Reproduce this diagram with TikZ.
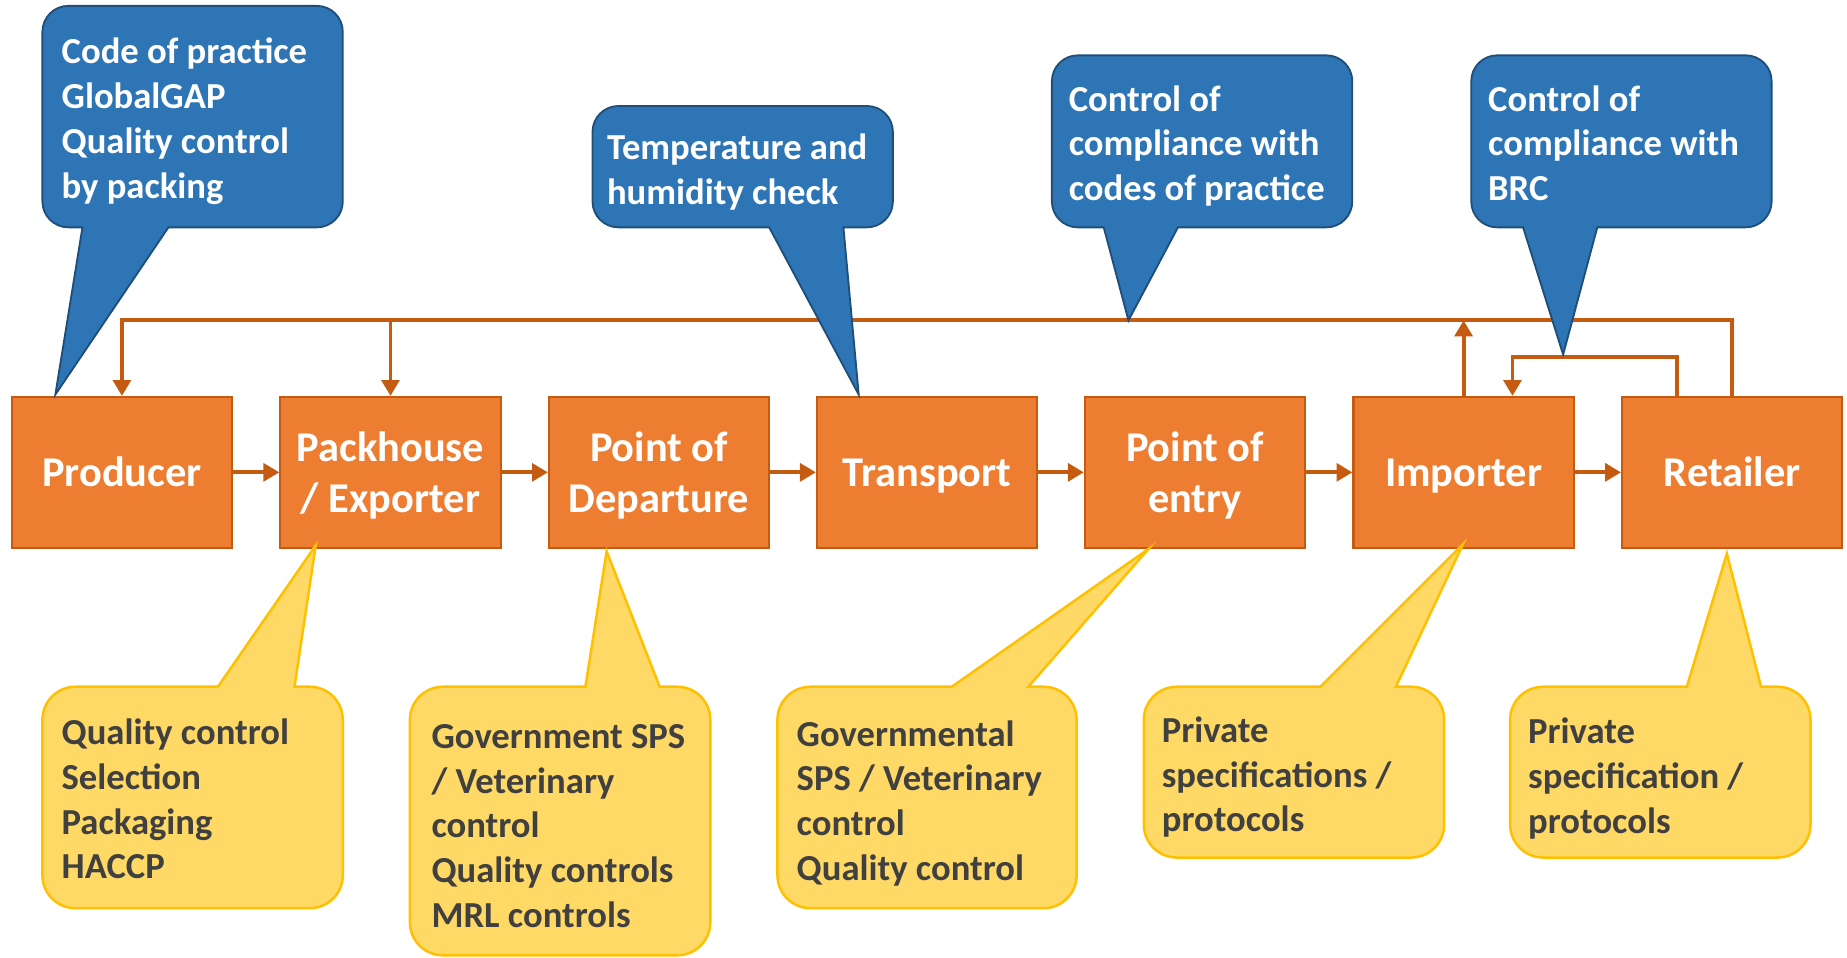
\documentclass[tikz,border=0pt]{standalone}
\usepackage{fontspec}
\setmainfont{Carlito}
\usepackage{tikz}
\usetikzlibrary{arrows.meta}
\definecolor{boxfill}{HTML}{ED7D31}
\definecolor{boxedge}{HTML}{C55A11}
\definecolor{linec}{HTML}{C55A11}
\definecolor{bluefill}{HTML}{2E75B6}
\definecolor{blueedge}{HTML}{1F4E79}
\definecolor{yellowfill}{HTML}{FFD966}
\definecolor{yellowedge}{HTML}{FFC000}
\definecolor{darktext}{HTML}{404040}
\tikzset{
  stage/.style={draw=boxedge, fill=boxfill, line width=1pt, minimum width=3.74cm, minimum height=2.56cm, inner sep=0pt, align=center, text=white, font=\fontsize{20.5}{25}\selectfont\bfseries},
  oneline/.style={text height=0.48cm, text depth=0pt},
  flow/.style={draw=linec, line width=1.9pt, -{Triangle[length=0.27cm,width=0.3cm]}},
  bluebub/.style={fill=bluefill, draw=blueedge, line width=0.9pt},
  yellowbub/.style={fill=yellowfill, draw=yellowedge, line width=1.2pt},
  bluetxt/.style={anchor=north west, inner sep=0pt, align=left, text=white, font=\fontsize{17.7}{21.6}\selectfont\bfseries},
  yellowtxt/.style={anchor=north west, inner sep=0pt, align=left, text=darktext, font=\fontsize{17.7}{21.6}\selectfont\bfseries},
}
% x1 y1 x2 y2 base-left base-right tip-x tip-y
\newcommand{\bubdown}[8]{%
  \draw[bluebub] (#5,#4) -- (#7,#8) -- (#6,#4) -- ({#3-22},#4)
    arc[start angle=90,end angle=0,radius=22] -- (#3,{#2+22})
    arc[start angle=0,end angle=-90,radius=22] -- ({#1+22},#2)
    arc[start angle=-90,end angle=-180,radius=22] -- (#1,{#4-22})
    arc[start angle=180,end angle=90,radius=22] -- cycle;}
\newcommand{\bubup}[8]{%
  \draw[yellowbub] (#6,#2) -- (#7,#8) -- (#5,#2) -- ({#1+28},#2)
    arc[start angle=-90,end angle=-180,radius=28] -- (#1,{#4-28})
    arc[start angle=180,end angle=90,radius=28] -- ({#3-28},#4)
    arc[start angle=90,end angle=0,radius=28] -- (#3,{#2+28})
    arc[start angle=0,end angle=-90,radius=28] -- cycle;}

\begin{document}
\begin{tikzpicture}[x=0.02cm, y=-0.02cm]
  \useasboundingbox (0,0) rectangle (1568,813);

  \node[stage, oneline] (prod) at (103.5,401) {Producer};
  \node[stage] (pack) at (331.5,401) {\strut Packhouse\\/ Exporter};
  \node[stage] (dep) at (559.5,401) {\strut Point of\\Departure};
  \node[stage, oneline] (trans) at (787,401) {Transport};
  \node[stage] (entry) at (1014.5,401) {\strut Point of\\entry};
  \node[stage, oneline] (imp) at (1242.5,401) {Importer};
  \node[stage, oneline] (ret) at (1470.5,401) {Retailer};

  \draw[flow] (prod) -- (pack);
  \draw[flow] (pack) -- (dep);
  \draw[flow] (dep) -- (trans);
  \draw[flow] (trans) -- (entry);
  \draw[flow] (entry) -- (imp);
  \draw[flow] (imp) -- (ret);

  \coordinate (fb) at (0,272);
  \coordinate (lp) at (0,303);
  \coordinate (retout) at ([xshift=-0.93cm]ret.north);
  \coordinate (impin) at ([xshift=0.83cm]imp.north);
  \draw[flow] (ret.north) |- (fb -| prod.north) -- (prod.north);
  \draw[flow] (fb -| pack.north) -- (pack.north);
  \draw[flow] (imp.north) -- (fb -| imp.north);
  \draw[flow] (retout) |- (impin |- lp) -- (impin);

  \bubdown{36}{5}{291}{193}{70}{143}{47}{335}
  \bubdown{503}{90}{758}{193}{653}{716}{729}{335}
  \bubdown{893}{47}{1148}{193}{937}{1000}{958}{272}
  \bubdown{1249}{47}{1504}{193}{1293}{1356}{1327}{301}
  \bubup{36}{583}{291}{771}{185}{250}{268}{463}
  \bubup{348}{583}{603}{811}{497}{560}{515}{468}
  \bubup{660}{583}{914}{771}{808}{873}{975}{466}
  \bubup{971}{583}{1226}{728}{1121}{1185}{1242}{462}
  \bubup{1282}{583}{1537}{728}{1432}{1495}{1466}{470}

  \node[bluetxt] (code) at (52,27.4) {\strut Code of practice\\GlobalGAP\\Quality control\\by packing};
  \node[bluetxt] (temp) at (515,108.4) {\strut Temperature and\\humidity check};
  \node[bluetxt] (comp) at (907,67.4) {\strut Control of\\compliance with\\codes of practice};
  \node[bluetxt] (brc) at (1263,67.4) {\strut Control of\\compliance with\\BRC};
  \node[yellowtxt] (qual) at (52,605.4) {\strut Quality control\\Selection\\Packaging\\HACCP};
  \node[yellowtxt] (gov) at (366,608.4) {\strut Government SPS\\/ Veterinary\\control\\Quality controls\\MRL controls};
  \node[yellowtxt] (govt) at (676,606.4) {\strut Governmental\\SPS / Veterinary\\control\\Quality control};
  \node[yellowtxt] (priv) at (986,603.4) {\strut Private\\specifications /\\protocols};
  \node[yellowtxt] (privr) at (1297,604.4) {\strut Private\\specification /\\protocols};
\end{tikzpicture}
\end{document}
